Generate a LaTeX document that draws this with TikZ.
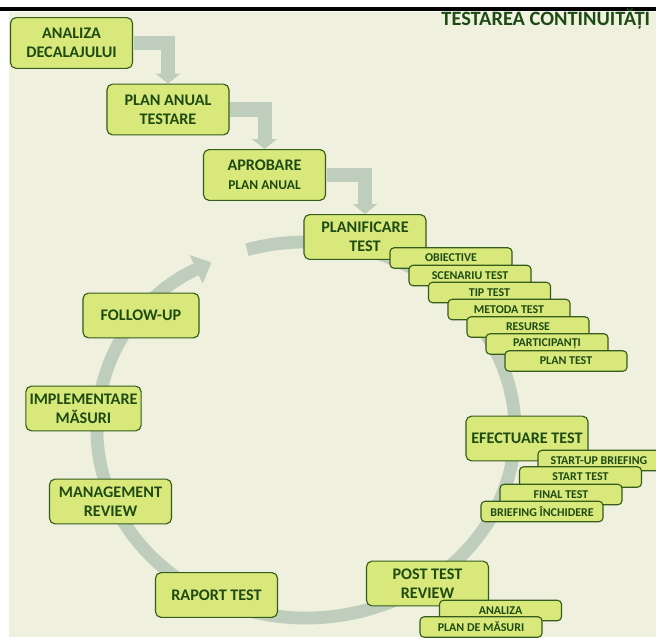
\documentclass[tikz,border=0pt]{standalone}
\usepackage{fontspec}
\setmainfont{Carlito}
\usetikzlibrary{arrows.meta}
\definecolor{bgcol}{RGB}{239,240,222}
\definecolor{boxfill}{RGB}{216,232,122}
\definecolor{boxline}{RGB}{52,92,28}
\definecolor{txtcol}{RGB}{30,75,20}
\definecolor{bandcol}{RGB}{190,205,188}

\begin{document}
\begin{tikzpicture}[
                x=0.025cm, y=-0.025cm,
                stage/.style = {draw=boxline, fill=boxfill, rounded corners=0.14cm, line width=0.8pt,
                                text=txtcol, font=\fontsize{11.5}{13.5}\selectfont\bfseries, align=center,
                                minimum width=3.05cm, minimum height=1.12cm, inner sep=0pt},
                tall/.style = {minimum height=1.27cm},
                task/.style = {draw=boxline, fill=boxfill, rounded corners=0.1cm, line width=0.8pt,
                               text=txtcol, font=\fontsize{8.5}{10}\selectfont\bfseries,
                               minimum width=3.05cm, minimum height=0.51cm, inner sep=0pt},
                flow/.style = {draw=bandcol, line width=0.35cm, shorten <=0.5pt,
                               -{Triangle[length=0.25cm, width=0.62cm, line width=0pt]}},
                band/.style = {draw=bandcol, line width=0.32cm,
                               -{Triangle[length=0.42cm, width=0.78cm, line width=0pt]}}
              ]
              \useasboundingbox (0,0) rectangle (656,637);
              \clip (0,0) rectangle (656,637);
              % Background
              \fill[bgcol] (9,12) rectangle (656,637);
              \fill[black] (0,7) rectangle (656,11.5);
              \node[anchor=base east, text=txtcol, font=\fontsize{14.5}{16}\selectfont\bfseries] (title) at (655,25.5) {TESTAREA CONTINUITĂȚI};
              % Cycle
              \draw[band] (306,430) ++(-106.4:209 and 188) arc[start angle=-106.4, end angle=243.1, x radius=209, y radius=188];
              % Preparation
              \node[stage, tall] (analiza) at (71.5,43) {ANALIZA\\DECALAJULUI};
              \node[stage, tall] (plananual) at (168,109.5) {PLAN ANUAL\\TESTARE};
              \node[stage, tall] (aprobare) at (264.5,175) {APROBARE\\{\fontsize{9.6}{11}\selectfont PLAN ANUAL}};
              % Test stages
              \node[stage] (planificare) at (365,237) {PLANIFICARE\\TEST};
              \node[stage] (efectuare) at (527,438.5) {EFECTUARE TEST};
              \node[stage] (postreview) at (427.5,583.5) {POST TEST\\REVIEW};
              \node[stage] (raport) at (216.5,595) {RAPORT TEST};
              \node[stage] (management) at (110.5,501.5) {MANAGEMENT\\REVIEW};
              \node[stage, minimum width=2.88cm] (implementare) at (83.5,408.5) {IMPLEMENTARE\\MĂSURI};
              \node[stage, minimum width=2.9cm] (followup) at (141,315.5) {FOLLOW-UP};
              % Planning tasks
              \node[task] (obiective) at (451,258) {OBIECTIVE};
              \node[task] (scenariu) at (470,275.5) {SCENARIU TEST};
              \node[task] (tiptest) at (489.5,292.5) {TIP TEST};
              \node[task] (metoda) at (509,309.5) {METODA TEST};
              \node[task] (resurse) at (528,327) {RESURSE};
              \node[task] (participanti) at (547,344) {PARTICIPANȚI};
              \node[task] (plantest) at (566,361) {PLAN TEST};
              % Execution tasks
              \node[task] (startup) at (599,460.5) {START-UP BRIEFING};
              \node[task] (starttest) at (580.5,477) {START TEST};
              \node[task] (finaltest) at (561,494.5) {FINAL TEST};
              \node[task] (inchidere) at (542,511.5) {BRIEFING ÎNCHIDERE};
              % Review tasks
              \node[task] (analizapost) at (500.5,610.5) {ANALIZA};
              \node[task] (planmasuri) at (481,627) {PLAN DE MĂSURI};
              % Flow
              \draw[flow] (analiza.east) -| (plananual.north);
              \draw[flow] (plananual.east) -| (aprobare.north);
              \draw[flow] (aprobare.east) -| (planificare.north);
            \end{tikzpicture}
\end{document}
